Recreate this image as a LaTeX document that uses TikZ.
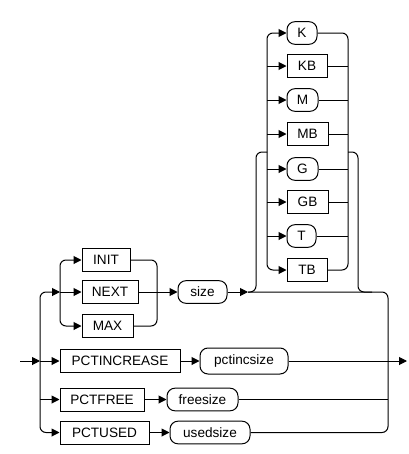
\documentclass[tikz,border=0pt]{standalone}
\usepackage{fontspec}
\setmainfont{Liberation Sans}
\usetikzlibrary{arrows.meta}
\begin{document}
\begin{tikzpicture}[x=0.75pt,y=-0.75pt,line width=0.75pt,
  tip/.style={-{Triangle[length=6pt,width=6pt]}},
  base/.style={draw,inner sep=0pt,font=\fontsize{10.2}{12}\selectfont},
  kw/.style={base,rectangle,minimum height=17.25pt,minimum width=#1*0.75pt},
  tm/.style={base,rectangle,rounded corners=6pt,minimum height=17pt,minimum width=#1*0.75pt},
  rc/.style={rounded corners=4.5pt}]
\useasboundingbox (0,0) rectangle (408,454);
% rails
\coordinate (railA) at (40,0);
\coordinate (railB) at (60,0);
\coordinate (railC) at (157,0);
\coordinate (uL) at (267,0);
\coordinate (uR) at (348,0);
\coordinate (bL) at (256,0);
\coordinate (bR) at (358,0);
\coordinate (railE) at (388,0);
\coordinate (bt) at (0,152);
% nodes
\node[kw=48] (INIT) at (106,260) {INIT};
\node[kw=56] (NEXT) at (110,292) {NEXT};
\node[kw=51] (MAX) at (107.5,326) {MAX};
\node[kw=120] (PCTINCREASE) at (120,361) {PCTINCREASE};
\node[kw=84] (PCTFREE) at (102,399.5) {PCTFREE};
\node[kw=89] (PCTUSED) at (104.5,432.5) {PCTUSED};
\node[tm=49] (size) at (202.5,292) {size};
\node[tm=88,minimum height=19.5pt] (pctincsize) at (244,361) {pctincsize};
\node[tm=71] (freesize) at (202.5,399.5) {freesize};
\node[tm=80] (usedsize) at (210,432.5) {usedsize};
\node[tm=30] (K) at (302,33) {K};
\node[kw=40] (KB) at (307,66) {KB};
\node[tm=31] (M) at (302.5,100) {M};
\node[kw=41] (MB) at (307.5,134) {MB};
\node[tm=31] (G) at (302.5,169) {G};
\node[kw=41] (GB) at (307.5,202) {GB};
\node[tm=29] (T) at (301.5,236) {T};
\node[kw=40] (TB) at (307,270) {TB};
\coordinate (start) at (20,361);
\coordinate (exit) at (407,361);
\coordinate (j) at (248,292);
\coordinate (j2) at (372,292);
% left part
\draw[tip] (start) -- (start -| railA);
\draw[tip] (start -| railA) -- (PCTINCREASE.west);
\draw[tip,rc] (PCTINCREASE.west -| railA) -- (NEXT.west -| railA) -- (NEXT.west -| railB);
\draw[tip,rc] (PCTINCREASE.west -| railA) -- (PCTUSED.west -| railA) -- (PCTUSED.west);
\draw[tip] (PCTFREE.west -| railA) -- (PCTFREE.west);
\draw[tip] (NEXT.west -| railB) -- (NEXT.west);
\draw[tip,rc] (NEXT.west -| railB) -- (INIT.west -| railB) -- (INIT.west);
\draw[tip,rc] (NEXT.west -| railB) -- (MAX.west -| railB) -- (MAX.west);
\draw[rc] (INIT.east) -- (INIT.east -| railC) -- (MAX.east -| railC) -- (MAX.east);
\draw[tip] (NEXT.east) -- (size.west);
\draw[tip] (PCTINCREASE.east) -- (pctincsize.west);
\draw[tip] (PCTFREE.east) -- (freesize.west);
\draw[tip] (PCTUSED.east) -- (usedsize.west);
% right part
\draw[tip] (size.east) -- (j);
\draw[rc] (j) -- (j -| railE) -- (usedsize.east -| railE) -- (usedsize.east);
\draw (freesize.east) -- (freesize.east -| railE);
\draw[tip] (pctincsize.east) -- (exit);
% bracket
\draw[rc] (j) -- (j -| bL) -- (bt -| bL) -- (bt -| uL);
\draw[rc] (bt -| uR) -- (bt -| bR) -- (j -| bR) -- (j2);
% units
\draw[tip,rc] (bt -| uL) -- (K.west -| uL) -- (K.west);
\draw[tip,rc] (bt -| uL) -- (TB.west -| uL) -- (TB.west);
\foreach \n in {KB,M,MB,G,GB,T} {
  \draw[tip] (\n.west -| uL) -- (\n.west);
  \draw (\n.east) -- (\n.east -| uR);
}
\draw[rc] (K.east) -- (K.east -| uR) -- (TB.east -| uR) -- (TB.east);
\end{tikzpicture}
\end{document}
